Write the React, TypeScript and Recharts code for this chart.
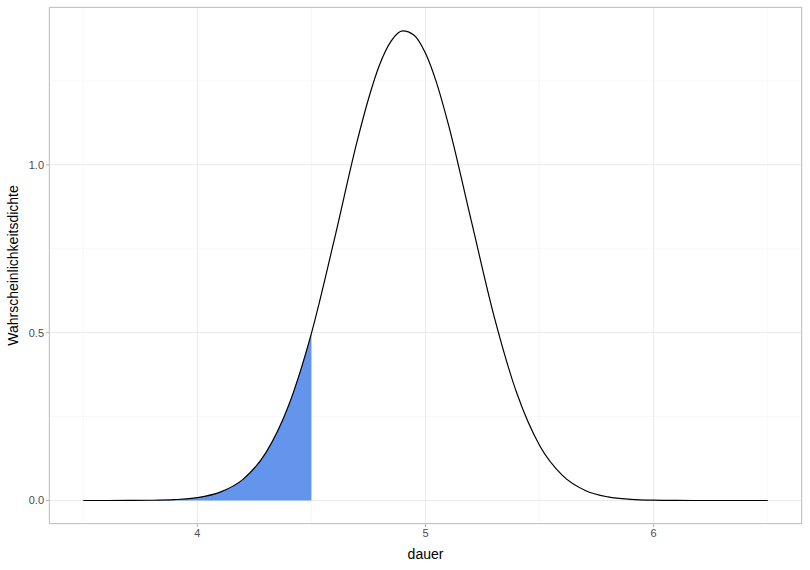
import { ComposedChart, Area, Line, XAxis, YAxis, CartesianGrid } from "recharts"

// dauer values (x) and density
const dauer = [
  3.5, 3.6, 3.7, 3.8, 3.9, 4.0, 4.1, 4.2, 4.3, 4.4, 4.5, 4.6, 4.7, 4.75, 4.8, 4.85, 4.9, 4.95, 5.0,
  5.05, 5.1, 5.2, 5.3, 5.4, 5.5, 5.6, 5.7, 5.8, 5.9, 6.0, 6.1, 6.2, 6.3, 6.4, 6.5
];
const dichte = [
  0.0, 0.0, 0.0002, 0.0007, 0.0026, 0.0085, 0.025, 0.063, 0.142, 0.283, 0.498, 0.776, 1.069, 1.196, 1.30, 1.369, 1.399, 1.386, 1.332,
  1.241, 1.121, 0.835, 0.55, 0.32, 0.164, 0.075, 0.03, 0.0107, 0.0034, 0.0009, 0.0002, 0.0, 0.0, 0.0, 0.0
];
const grenze = 4.5;

const xTicks = [4, 5, 6];
const yTicks = [0, 0.5, 1.0];
const xMinor = [3.5, 4.5, 5.5, 6.5];
const yMinor = [0.25, 0.75, 1.25];
const xDomain = [3.35, 6.65];
const yDomain = [-0.07, 1.47];

const data = dauer.map((x, i) => ({
  x,
  y: dichte[i],
  shade: x <= grenze + 1e-9 ? dichte[i] : null
}));

const FONT = "Liberation Sans, Arial, sans-serif";

// minor grid positions from the plot offset and the axis domains
const minorX = ({ offset }: any) =>
  xMinor.map(v => offset.left + ((v - xDomain[0]) / (xDomain[1] - xDomain[0])) * offset.width);
const minorY = ({ offset }: any) =>
  yMinor.map(v => offset.top + ((yDomain[1] - v) / (yDomain[1] - yDomain[0])) * offset.height);

const App = () => {
  return (
    <div style={{ position: "absolute", left: 0, top: 0, background: "#fff" }}>
      <ComposedChart
        width={810}
        height={570}
        data={data}
        margin={{ top: 7, right: 8, left: 0, bottom: 0 }}
      >
        <CartesianGrid
          stroke="#f3f3f3"
          strokeWidth={0.6}
          verticalCoordinatesGenerator={minorX}
          horizontalCoordinatesGenerator={minorY}
        />
        <CartesianGrid stroke="#ebebeb" strokeWidth={1} />
        <XAxis
          dataKey="x"
          type="number"
          domain={xDomain}
          ticks={xTicks}
          height={46}
          axisLine={false}
          tickLine={{ stroke: "#b3b3b3" }}
          tickSize={3}
          tick={{ fill: "#4d4d4d", fontSize: 11, fontFamily: FONT }}
          tickFormatter={(v: number) => String(v)}
          label={{ value: "dauer", position: "insideBottom", offset: 11, fill: "#000", fontSize: 14, fontFamily: FONT }}
        />
        <YAxis
          type="number"
          domain={yDomain}
          ticks={yTicks}
          width={49}
          axisLine={false}
          tickLine={{ stroke: "#b3b3b3" }}
          tickSize={3}
          tick={{ fill: "#4d4d4d", fontSize: 11, fontFamily: FONT }}
          tickFormatter={(v: number) => v.toFixed(1)}
          label={{ value: "Wahrscheinlichkeitsdichte", angle: -90, position: "insideLeft", offset: 13, fill: "#000", fontSize: 14, fontFamily: FONT, style: { textAnchor: "middle" } }}
        />
        <Area
          dataKey="shade"
          type="monotone"
          fill="#6495ED"
          fillOpacity={1}
          stroke="none"
          baseValue={0}
          connectNulls={false}
          isAnimationActive={false}
        />
        <Line
          dataKey="y"
          type="monotone"
          stroke="#000"
          strokeWidth={1.2}
          dot={false}
          activeDot={false}
          isAnimationActive={false}
        />
      </ComposedChart>
      <div
        style={{
          position: "absolute",
          left: 49,
          top: 7,
          width: 753,
          height: 517,
          border: "1px solid #c4c4c4",
          boxSizing: "border-box",
          pointerEvents: "none"
        }}
      />
    </div>
  )
}

export default App
